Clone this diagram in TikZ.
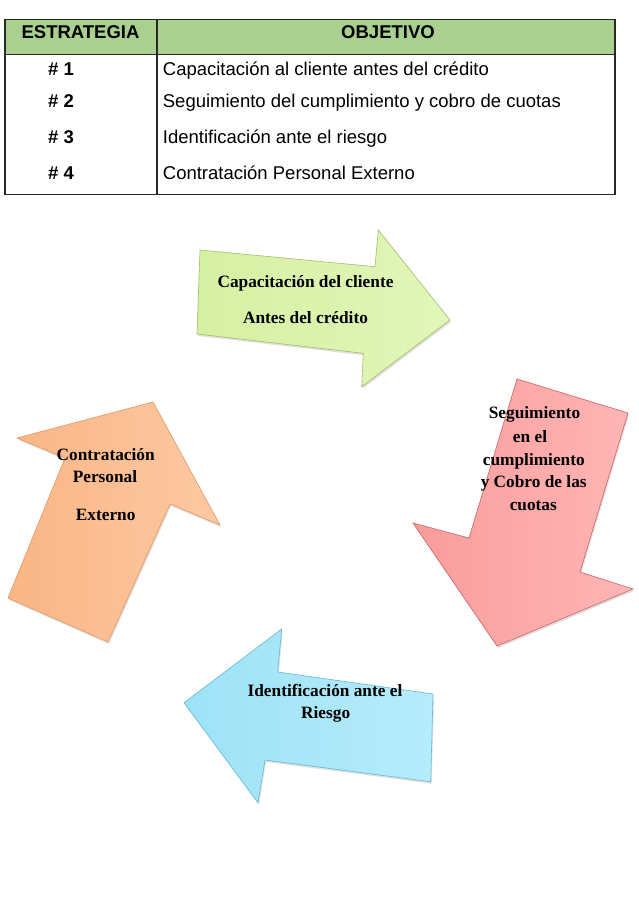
\documentclass[tikz,border=0pt]{standalone}
\usepackage{fontspec}
\setmainfont{Liberation Serif}
\newfontfamily\arialfont{Liberation Sans}
\usetikzlibrary{shadows}
\definecolor{hdrgreen}{RGB}{169,208,142}
\definecolor{tline}{RGB}{40,40,40}
\definecolor{grnA}{RGB}{214,240,162}
\definecolor{grnB}{RGB}{226,246,186}
\definecolor{grnE}{RGB}{160,190,105}
\definecolor{redA}{RGB}{249,156,156}
\definecolor{redB}{RGB}{255,182,182}
\definecolor{redE}{RGB}{205,100,100}
\definecolor{orgA}{RGB}{250,182,134}
\definecolor{orgB}{RGB}{252,200,162}
\definecolor{orgE}{RGB}{230,150,95}
\definecolor{bluA}{RGB}{158,226,246}
\definecolor{bluB}{RGB}{182,236,251}
\definecolor{bluE}{RGB}{100,185,215}
\begin{document}
\begin{tikzpicture}[x=1pt,y=-1pt,
  tbl/.style={draw=tline, line width=1.1pt},
  hcell/.style={font=\arialfont\bfseries\fontsize{18.5}{22}\selectfont, inner sep=0, anchor=base},
  ncell/.style={font=\arialfont\bfseries\fontsize{18.5}{22}\selectfont, inner sep=0, anchor=base},
  tcell/.style={font=\arialfont\fontsize{18.5}{22}\selectfont, inner sep=0, anchor=base west},
  arrowshape/.style={line width=0.6pt, drop shadow={opacity=0.25, shadow xshift=1pt, shadow yshift=-2pt}},
  lbl/.style={font=\bfseries\fontsize{17.3}{20}\selectfont, inner sep=0, anchor=base},
]
\useasboundingbox (0,0) rectangle (639,903);
\fill[white] (0,0) rectangle (639,903);

% table
\fill[hdrgreen] (5,19.5) rectangle (615,54.5);
\draw[tbl] (5,19.5) rectangle (615,194.5);
\draw[tbl] (5,54.5) -- (615,54.5);
\draw[tbl] (157,19.5) -- (157,194.5);
\node[hcell] (hE) at (80.5,38.3) {ESTRATEGIA};
\node[hcell] (hO) at (388,38.3) {OBJETIVO};
\node[ncell] (n1) at (61,75) {\# 1};
\node[ncell] (n2) at (61,107.3) {\# 2};
\node[ncell] (n3) at (61,143.3) {\# 3};
\node[ncell] (n4) at (61,179.3) {\# 4};
\node[tcell] (t1) at (162.7,75) {Capacitación al cliente antes del crédito};
\node[tcell] (t2) at (162.7,107.3) {Seguimiento del cumplimiento y cobro de cuotas};
\node[tcell] (t3) at (162.7,143.3) {Identificación ante el riesgo};
\node[tcell] (t4) at (162.7,179.3) {Contratación Personal Externo};

% green arrow (right)
\path[arrowshape, draw=grnE, left color=grnA, right color=grnB]
  (200,250) -- (375,266.7) -- (378.3,230) -- (450,320) -- (361.7,386.7)
  -- (363.3,353.3) -- (197,334) -- cycle;
\node[lbl] (g1) at (305.5,287) {Capacitación del cliente};
\node[lbl] (g2) at (305.5,323) {Antes del crédito};

% red arrow (down)
\path[arrowshape, draw=redE, left color=redA, right color=redB]
  (517,379) -- (628,413) -- (580,572) -- (633,589) -- (497,646)
  -- (413,523) -- (469,538) -- cycle;
\node[lbl] (r1) at (534.5,418) {Seguimiento};
\node[lbl] (r2) at (530,442) {en el};
\node[lbl] (r3) at (533.8,465) {cumplimiento};
\node[lbl] (r4) at (533.7,487) {y Cobro de las};
\node[lbl] (r5) at (533.3,510) {cuotas};

% blue arrow (left)
\path[arrowshape, draw=bluE, left color=bluA, right color=bluB]
  (281.7,629) -- (277.7,672) -- (433,694) -- (430.7,781.7) -- (265,760)
  -- (258,802.7) -- (184,702.7) -- cycle;
\node[lbl] (b1) at (325,696) {Identificación ante el};
\node[lbl] (b2) at (325.7,718) {Riesgo};

% orange arrow (up)
\path[arrowshape, draw=orgE, left color=orgA, right color=orgB]
  (17,438) -- (153,402) -- (220,525) -- (170,504) -- (108,642)
  -- (8,598) -- (65,458) -- cycle;
\node[lbl] (o1) at (105.7,460) {Contratación};
\node[lbl] (o2) at (105,482) {Personal};
\node[lbl] (o3) at (105.7,520) {Externo};
\end{tikzpicture}
\end{document}
